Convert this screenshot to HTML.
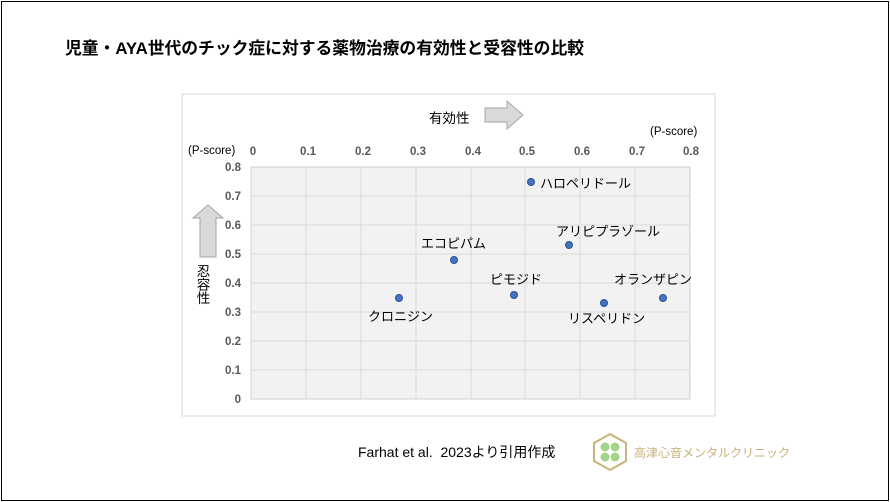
<!DOCTYPE html>
<html><head><meta charset="utf-8"><style>
body{margin:0;width:890px;height:502px;background:#fff;overflow:hidden;font-family:"Liberation Sans","Noto Sans CJK JP",sans-serif}
#f{position:absolute;left:1px;top:1px;width:886px;height:498px;border:1px solid #000}
</style></head><body><div id="f"></div>
<svg width="890" height="502" style="position:absolute;left:0;top:0" font-family="Liberation Sans, Noto Sans CJK JP, sans-serif">
<text x="65" y="54" font-size="16.8" font-weight="bold" fill="#000">児童・AYA世代のチック症に対する薬物治療の有効性と受容性の比較</text>
<rect x="182" y="94" width="533" height="322" fill="#fff" stroke="#d9d9d9"/>
<rect x="251" y="167" width="439" height="232" fill="#f2f2f2" stroke="#d0d0d0"/>
<g stroke="#d9d9d9" stroke-width="1">
<line x1="306" y1="167" x2="306" y2="399"/><line x1="361" y1="167" x2="361" y2="399"/><line x1="416" y1="167" x2="416" y2="399"/><line x1="471" y1="167" x2="471" y2="399"/><line x1="525" y1="167" x2="525" y2="399"/><line x1="580" y1="167" x2="580" y2="399"/><line x1="635" y1="167" x2="635" y2="399"/>
<line x1="251" y1="196" x2="690" y2="196"/><line x1="251" y1="225" x2="690" y2="225"/><line x1="251" y1="254" x2="690" y2="254"/><line x1="251" y1="283" x2="690" y2="283"/><line x1="251" y1="312" x2="690" y2="312"/><line x1="251" y1="341" x2="690" y2="341"/><line x1="251" y1="370" x2="690" y2="370"/>
</g>
<g font-size="11.5" font-weight="bold" fill="#595959" text-anchor="middle">
<text x="253" y="155">0</text><text x="308" y="155">0.1</text><text x="363" y="155">0.2</text><text x="418" y="155">0.3</text><text x="473" y="155">0.4</text><text x="527" y="155">0.5</text><text x="582" y="155">0.6</text><text x="637" y="155">0.7</text><text x="691" y="155">0.8</text>
</g>
<g font-size="11.5" font-weight="bold" fill="#595959" text-anchor="end">
<text x="241" y="171">0.8</text><text x="241" y="200">0.7</text><text x="241" y="229">0.6</text><text x="241" y="258">0.5</text><text x="241" y="287">0.4</text><text x="241" y="316">0.3</text><text x="241" y="345">0.2</text><text x="241" y="374">0.1</text><text x="241" y="403">0</text>
</g>
<text x="188" y="154" font-size="11.5" fill="#000">(P-score)</text>
<text x="650" y="135" font-size="11.5" fill="#000">(P-score)</text>
<text x="429" y="123" font-size="13.5" fill="#000">有効性</text>
<polygon points="485,108 507,108 507,101 523,115 507,129 507,122 485,122" fill="#d9d9d9" stroke="#a6a6a6"/>
<polygon points="200,257 200,218 193,218 208,205 223,218 216,218 216,257" fill="#d9d9d9" stroke="#a6a6a6"/>
<text font-size="13.5" fill="#000" x="202" y="264" writing-mode="tb">忍容性</text>
<g fill="#4472c4" stroke="#2f528f" stroke-width="1">
<circle cx="531" cy="182" r="3.5"/><circle cx="399" cy="298" r="3.5"/><circle cx="454" cy="260" r="3.5"/><circle cx="514" cy="295" r="3.5"/><circle cx="569" cy="245" r="3.5"/><circle cx="604" cy="303" r="3.5"/><circle cx="663" cy="298" r="3.5"/>
</g>
<g font-size="13" fill="#000">
<text x="540" y="188">ハロペリドール</text>
<text x="421" y="248">エコピパム</text>
<text x="556" y="236">アリピプラゾール</text>
<text x="490" y="284">ピモジド</text>
<text x="614" y="284">オランザピン</text>
<text x="368" y="321">クロニジン</text>
<text x="568" y="323">リスペリドン</text>
</g>
<text x="358" y="457" font-size="14" fill="#000" xml:space="preserve">Farhat et al.  2023より引用作成</text>
<polygon points="610,434 626,443 626,461 610,470 594,461 594,443" fill="#fff" stroke="#c9b27a" stroke-width="2"/>
<g fill="#a6d38a"><circle cx="605" cy="447" r="4.5"/><circle cx="615" cy="447" r="4.5"/><circle cx="605" cy="457" r="4.5"/><circle cx="615" cy="457" r="4.5"/></g>
<text x="634" y="457" font-size="12" fill="#c9b27a">高津心音メンタルクリニック</text>
</svg></body></html>
